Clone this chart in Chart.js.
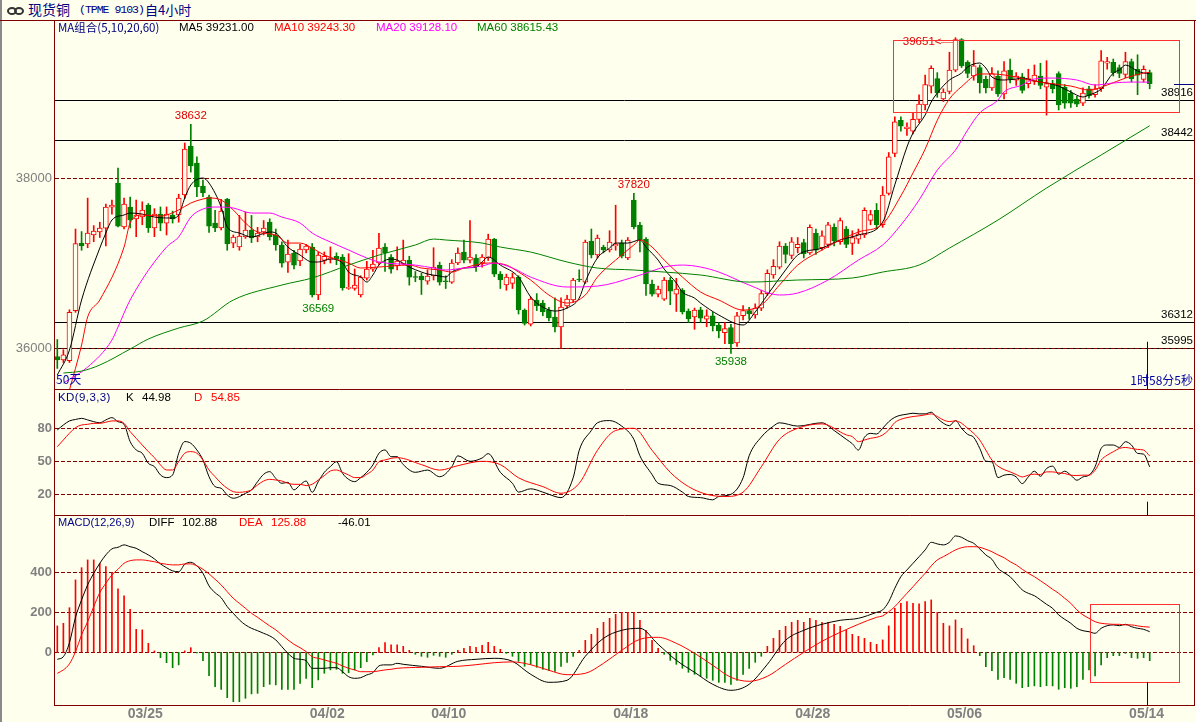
<!DOCTYPE html>
<html lang="zh-CN"><head><meta charset="utf-8">
<title>现货铜</title>
<script src="https://cdn.jsdelivr.net/npm/chart.js@4.4.1/dist/chart.umd.min.js"></script>
<style>
html,body{margin:0;padding:0;background:#FFFFEE;}
body{position:relative;width:1196px;height:722px;overflow:hidden;font-family:"Liberation Sans",Arial,sans-serif;}
#strip{position:absolute;left:0;top:0;width:2px;height:722px;background:#8a8a8a;}
#tline{position:absolute;left:0;top:20px;width:1196px;height:1px;background:#800000;}
canvas{position:absolute;left:0;}
.t{position:absolute;white-space:nowrap;font-size:11px;line-height:13px;}
.cjk{font-family:"Noto Sans CJK SC","Liberation Sans",sans-serif;}
.ring{position:absolute;top:7px;width:6px;height:4px;border:2px solid #333;border-radius:50%;}
</style></head>
<body>
<div id="strip"></div>
<div class="ring" style="left:7px"></div><div class="ring" style="left:14px"></div>
<div class="t cjk" style="left:28px;top:0px;font-size:14px;line-height:19px;color:#000080">现货铜</div>
<div class="t" style="left:79px;top:3px;font-family:'Liberation Mono',monospace;font-size:11.5px;line-height:14px;letter-spacing:-1px;color:#000080">(TPME 9103)</div>
<div class="t cjk" style="left:145px;top:0px;font-size:13px;line-height:19px;color:#000080">自4小时</div>
<div id="tline"></div>
<canvas id="cMain" width="1196" height="369" style="top:20px"></canvas>
<canvas id="cKD" width="1196" height="126" style="top:389px"></canvas>
<canvas id="cMACD" width="1196" height="207" style="top:515px"></canvas>

<div class="t cjk" style="left:58px;top:19px;font-size:11.5px;line-height:16px;color:#000080">MA组合(5,10,20,60)</div>
<div class="t" style="left:179px;top:21px;font-size:11.5px;color:#000">MA5 39231.00</div>
<div class="t" style="left:274px;top:21px;font-size:11.5px;color:#FF0000">MA10 39243.30</div>
<div class="t" style="left:376px;top:21px;font-size:11.5px;color:#FF00FF">MA20 39128.10</div>
<div class="t" style="left:477px;top:21px;font-size:11.5px;color:#008000">MA60 38615.43</div>
<div class="t cjk" style="left:56px;top:372px;font-size:12px;color:#0000A0">50天</div>

<div class="t" style="left:58px;top:391px;font-size:11.5px;color:#000080;letter-spacing:0.4px">KD(9,3,3)</div>
<div class="t" style="left:126px;top:391px;font-size:11.5px;color:#000">K</div>
<div class="t" style="left:142px;top:391px;font-size:11.5px;color:#000">44.98</div>
<div class="t" style="left:194px;top:391px;font-size:11.5px;color:#FF0000">D</div>
<div class="t" style="left:211px;top:391px;font-size:11.5px;color:#FF0000">54.85</div>

<div class="t" style="left:58px;top:516px;font-size:11px;color:#000080">MACD(12,26,9)</div>
<div class="t" style="left:149px;top:516px;font-size:11.5px;color:#000">DIFF</div>
<div class="t" style="left:182px;top:516px;font-size:11.5px;color:#000">102.88</div>
<div class="t" style="left:239px;top:516px;font-size:11.5px;color:#FF0000">DEA</div>
<div class="t" style="left:271px;top:516px;font-size:11.5px;color:#FF0000">125.88</div>
<div class="t" style="left:338px;top:516px;font-size:11.5px;color:#000">-46.01</div>

<script>
// ---------------- data ----------------
const tickIdx    = [14, 44, 64, 94, 124, 149, 179];
const tickLabels = ['03/25','04/02','04/10','04/18','04/28','05/06','05/14'];

const opens = [35900,35860,35850,36440,37235,37224,37330,37365,37411,37658,
37940,37424,37659,37518,37541,37682,37412,37576,37470,37565,
37565,37800,38376,38176,37906,37776,37470,37412,37753,37235,
37188,37306,37388,37306,37365,37482,37330,37212,37011,37118,
37024,37153,37188,36624,37030,37050,37080,37070,36700,36700,
36624,36823,36929,37000,37188,37070,36965,36990,37035,36840,
36847,36788,36847,36976,36790,36776,37000,37130,37035,37059,
37000,37059,37282,36870,36741,36760,36835,36447,36280,36565,
36530,36447,36365,36247,36494,36565,36810,36776,37259,37094,
37188,37153,37200,37235,37060,37741,37447,37282,36753,36635,
36576,36800,36635,36682,36435,36365,36450,36340,36380,36270,
36180,36240,36060,36380,36440,36390,36470,36640,36860,36950,
37200,37090,37180,37240,37120,37350,37180,37220,37420,37250,
37400,37230,37280,37330,37500,37620,37450,37820,38290,38680,
38580,38550,38690,38860,39080,39170,38930,39020,39270,39630,
39360,39200,39300,39160,39060,39200,38990,39270,39150,39190,
39110,39140,39200,39070,39110,39230,39070,39000,38930,38880,
39050,38980,39050,39350,39360,39300,39220,39370,39280,39160,
39240];
const highs = [36100,35980,36450,37400,37370,37764,37440,37480,37694,37741,
38118,37764,37776,37741,37720,37700,37640,37660,37660,37610,
37810,38412,38632,38250,37976,37800,37620,37750,37760,37330,
37560,37600,37560,37420,37500,37520,37400,37250,37270,37150,
37220,37220,37230,37130,37130,37190,37120,37100,37110,36930,
36850,37020,37150,37350,37230,37100,37190,37270,37080,36900,
36880,36920,37180,37010,36850,37040,37180,37270,37500,37100,
37100,37340,37290,36900,36870,36880,36850,36460,36600,36640,
36560,36480,36590,36590,36620,36820,36920,37270,37400,37330,
37210,37380,37680,37270,37300,37820,37480,37300,36800,36730,
36830,36830,36820,36700,36460,36470,36480,36450,36420,36300,
36300,36280,36420,36500,36480,36520,36680,36920,37040,37250,
37230,37300,37300,37280,37450,37400,37380,37480,37460,37530,
37430,37380,37400,37650,37620,37700,37900,38300,38720,38720,
38650,38770,38980,39210,39320,39240,39050,39480,39651,39640,
39380,39500,39330,39200,39300,39260,39370,39400,39240,39230,
39280,39330,39350,39380,39150,39250,39100,39030,38960,39060,
39080,39100,39500,39420,39400,39330,39480,39400,39450,39320,
39270];
const lows = [35760,35830,35830,36420,37150,37180,37250,37300,37200,37576,
37424,37400,37412,37310,37450,37360,37310,37380,37330,37470,
37480,37760,38070,37780,37780,37360,37370,37390,37150,37180,
37150,37290,37240,37250,37330,37270,37150,36950,36890,36930,
36970,37120,36600,36569,36990,37000,36980,36680,36690,36680,
36600,36800,36900,36980,36900,36880,36920,36980,36740,36780,
36630,36750,36800,36740,36700,36760,36980,37000,37000,36900,
36950,37030,36840,36700,36680,36700,36400,36270,36260,36440,
36380,36320,36190,36000,36470,36540,36780,36760,37060,37060,
37120,37130,37150,37060,37040,37400,37130,36620,36610,36600,
36560,36510,36430,36400,36300,36220,36300,36250,36200,36120,
36050,35938,36020,36330,36340,36350,36440,36620,36820,36930,
37000,37050,37120,37060,37100,37100,37150,37180,37200,37220,
37180,37100,37230,37300,37450,37400,37420,37800,38250,38550,
38500,38520,38650,38800,39000,38950,38900,38990,39250,39300,
39180,39150,39000,39000,39030,38960,38930,39120,39090,39000,
39060,39100,39050,38740,39000,38800,38820,38830,38840,38850,
38940,38950,39020,39280,39200,39180,39180,39130,38980,39130,
39050];
const closes = [35860,35920,36420,37230,37200,37353,37376,37411,37658,37682,
37435,37694,37506,37565,37624,37412,37576,37470,37576,37518,
37765,38341,38141,37894,37824,37435,37412,37612,37224,37306,
37318,37388,37294,37353,37412,37306,37212,36999,37106,36976,
37165,37200,36624,37094,37080,37060,37050,36706,36715,36740,
36835,36929,36988,37176,37118,36929,37024,37035,36835,36830,
36800,36847,36953,36776,36780,37000,37118,37035,37070,36953,
37070,37282,36870,36800,36835,36830,36447,36290,36576,36494,
36424,36353,36247,36482,36576,36800,36800,37247,37094,37294,
37153,37247,37220,37082,37270,37424,37271,36753,36635,36694,
36800,36670,36694,36424,36341,36447,36350,36380,36260,36200,
36230,36050,36380,36440,36400,36470,36640,36880,36960,37200,
37100,37250,37220,37110,37420,37150,37320,37450,37260,37500,
37220,37300,37340,37620,37570,37450,37800,38250,38660,38610,
38600,38690,38870,39100,39290,39000,39010,39270,39630,39320,
39230,39320,39120,39060,39230,38990,39260,39170,39200,39030,
39170,39210,39090,39110,39050,38860,38880,38880,38870,39000,
38970,39050,39380,39370,39240,39230,39370,39170,39210,39280,
39110];

// moving averages: [bar index, value]
const ma5Pts = [[0,35682],[2,35976],[4,36565],[7,37176],[8,37353],[9,37506],[11,37565],[12,37588],[14,37576],[16,37541],[19,37529],[20,37565],[21,37765],[22,37918],[24,38000],[25,37941],[27,37659],[28,37424],[30,37353],[32,37306],[35,37365],[36,37353],[38,37188],[40,37094],[42,37012],[43,37012],[45,37047],[47,37000],[48,36894],[50,36835],[51,36776],[52,36859],[53,36976],[55,37047],[56,37035],[58,36953],[60,36894],[61,36871],[63,36847],[64,36835],[65,36894],[67,36941],[69,36953],[70,37012],[71,37071],[73,36976],[76,36835],[78,36600],[80,36482],[82,36435],[84,36471],[86,36588],[87,36780],[89,37059],[91,37176],[92,37235],[94,37235],[96,37271],[97,37188],[99,37035],[100,36929],[102,36765],[103,36659],[105,36588],[106,36529],[109,36388],[113,36271],[115,36424],[117,36624],[120,36918],[122,37094],[126,37176],[129,37271],[132,37329],[136,37482],[138,37920],[140,38365],[141,38529],[143,38741],[144,38894],[145,39000],[147,39153],[149,39235],[150,39306],[152,39353],[153,39294],[154,39188],[156,39153],[158,39165],[159,39176],[161,39141],[163,39118],[165,39082],[167,39012],[169,38953],[170,38976],[172,39047],[174,39235],[175,39271],[176,39329],[178,39259],[179,39235],[180,39231]];
const ma10Pts = [[2,35506],[4,36035],[5,36365],[7,36565],[11,37188],[12,37471],[14,37565],[17,37553],[20,37624],[22,37706],[24,37753],[25,37765],[27,37741],[29,37624],[31,37471],[33,37365],[36,37329],[38,37235],[40,37235],[42,37176],[44,37094],[48,37000],[50,36941],[53,36953],[58,36976],[60,36941],[63,36918],[65,36894],[67,36941],[71,37000],[74,36976],[76,36894],[78,36800],[81,36624],[84,36529],[87,36624],[89,36835],[92,37035],[95,37212],[96,37271],[98,37188],[100,37035],[103,36835],[106,36659],[109,36565],[113,36447],[116,36506],[119,36741],[122,36976],[126,37153],[129,37271],[132,37365],[136,37460],[139,37790],[141,38060],[143,38340],[145,38680],[147,38930],[149,39075],[152,39224],[154,39224],[158,39188],[160,39153],[163,39118],[167,39082],[170,39035],[173,39094],[176,39176],[179,39235],[180,39243]];
const ma20Pts = [[1,35588],[5,35776],[9,36094],[10,36247],[12,36565],[18,37188],[20,37306],[22,37541],[24,37635],[26,37659],[29,37647],[32,37588],[35,37588],[37,37541],[40,37471],[42,37353],[45,37247],[48,37153],[51,37059],[53,37012],[59,36976],[62,36941],[64,36918],[67,36941],[70,36965],[72,37000],[75,36941],[78,36835],[84,36718],[89,36729],[95,36835],[98,36906],[100,36953],[103,36976],[106,36953],[109,36894],[114,36741],[119,36624],[122,36647],[127,36800],[132,37035],[136,37212],[139,37447],[142,37741],[145,38094],[148,38329],[150,38565],[152,38765],[155,38918],[156,39012],[159,39094],[161,39165],[164,39176],[168,39153],[171,39094],[174,39118],[177,39129],[180,39128]];
const ma60Pts = [[1,35706],[4,35729],[7,35800],[12,35988],[15,36106],[20,36235],[24,36318],[29,36565],[37,36741],[42,36824],[48,36976],[53,37094],[59,37212],[62,37282],[64,37271],[70,37235],[73,37188],[78,37129],[84,37012],[89,36941],[95,36918],[100,36894],[106,36859],[114,36776],[122,36800],[131,36824],[136,36894],[142,36976],[147,37176],[155,37506],[163,37882],[172,38271],[180,38615]];

// KD
const kPts = [[0,78.5],[1,83],[2,86.7],[3,88],[4,89],[5,87.6],[6,86],[7,85],[8,87.6],[9,89.7],[10,86],[11,83.6],[12,67.9],[13,60.3],[14,57.3],[15,48.2],[16,45.2],[17,37.6],[18,35.2],[19,37.6],[20,57.3],[21,67.9],[22,66.4],[23,60.3],[24,51.2],[25,36],[26,27],[27,25.5],[28,19.4],[29,16.4],[30,17.9],[31,20.9],[32,24],[33,31.5],[34,38.2],[35,40.6],[36,34.5],[37,30],[38,30.9],[39,24],[40,28.5],[41,32.1],[42,21.8],[43,31.5],[44,40],[45,45.2],[46,49.7],[47,39.1],[48,33.6],[49,31.5],[50,35.2],[51,40],[52,46.7],[53,57.3],[54,60.3],[55,54.2],[56,54.2],[57,47],[59,40],[61,42],[63,36],[65,45],[66,55],[68,50],[70,53],[71,57],[73,40],[75,30],[76,22],[78,25],[80,22],[81,20],[83,17],[85,35],[86,60],[88,78],[89,85],[91,87],[93,82],[95,70],[96,55],[98,38],[99,30],[101,28],[103,22],[104,18],[106,17],[108,15],[109,18],[111,20],[113,35],[114,55],[116,72],[118,82],[119,85],[122,82],[126,85],[128,78],[130,70],[131,66],[132,60.2],[133,71.8],[134,75.4],[135,74.8],[136,80],[137,86],[138,90],[139,91.9],[140,92.8],[141,93.7],[142,93.1],[143,93.1],[144,94.6],[145,89.1],[146,84.6],[147,82.4],[148,87],[149,80],[150,74.5],[151,71.8],[152,61.7],[153,50.1],[154,49.5],[155,35.2],[156,37.4],[157,38],[158,35.8],[159,29.7],[160,35.8],[161,41],[162,36.4],[163,43.4],[164,45.6],[165,38.3],[166,41],[167,37.4],[168,32.8],[169,35.8],[170,37.4],[171,45],[172,61.7],[173,64.8],[174,64.8],[175,62.6],[176,67.8],[177,64.8],[178,57.2],[179,56.5],[180,44.98]];
const dPts = [[0,63.3],[1,69.4],[2,75.5],[3,80.6],[4,83],[5,83.6],[6,84.5],[7,84.5],[8,85.5],[9,86.7],[10,86.7],[11,84.5],[12,77],[13,70.9],[14,64.8],[15,58.8],[16,53.3],[17,46.7],[18,42.1],[19,42.1],[20,49.7],[21,57.3],[22,58.8],[23,57.3],[24,51.2],[25,42.1],[26,36],[27,30],[28,25.5],[29,22.4],[30,21.8],[31,22.4],[32,24],[33,28.5],[34,32.1],[35,33.6],[36,33],[37,32.1],[38,30],[39,29.1],[40,29.1],[41,27.9],[42,29.1],[43,33],[44,37],[45,41.2],[46,42.1],[47,40],[48,37.6],[49,35.2],[50,35.2],[51,38.2],[52,42.1],[53,49.7],[54,51.2],[55,52.7],[56,53.3],[60,47],[63,42],[66,46],[70,50],[73,47],[76,35],[80,27],[83,21],[86,30],[89,60],[92,78],[95,80],[98,60],[101,40],[104,27],[107,20],[110,18],[113,22],[116,45],[119,70],[122,80],[126,84],[130,74],[131,72.4],[132,67.8],[133,69.3],[134,70.9],[135,71.8],[136,73.9],[137,78.5],[138,85.2],[139,88.2],[140,89.7],[141,90.7],[142,91.3],[143,92.2],[144,93.1],[145,90.7],[146,87.6],[147,86.1],[148,86.7],[149,84.6],[150,80],[151,75.4],[152,69.3],[153,60.2],[154,51.1],[155,45.6],[156,42.5],[157,40.4],[158,38],[159,35.8],[160,37.4],[161,38.3],[162,38],[163,40.4],[164,40.4],[165,39.5],[166,38.9],[167,37.4],[168,37.1],[169,37.4],[170,37.4],[171,41.9],[172,51.1],[173,55.6],[174,58.7],[175,61.7],[176,62.6],[177,61.7],[178,60.8],[179,60.2],[180,54.85]];

// MACD
const difPts = [[0,-35],[1,-22],[2,48],[3,175],[4,262],[5,337],[6,395],[7,445],[8,487],[9,517],[10,525],[11,537],[12,528],[13,520],[14,503],[15,487],[16,467],[17,442],[18,423],[19,407],[20,403],[21,440],[22,450],[23,432],[24,395],[25,332],[26,298],[27,273],[28,228],[29,195],[30,162],[31,137],[32,120],[33,108],[34,95],[35,82],[36,62],[37,28],[38,-5],[39,-30],[40,-35],[41,-42],[42,-80],[43,-80],[44,-80],[45,-77],[46,-77],[47,-97],[48,-122],[49,-130],[50,-127],[51,-113],[52,-102],[53,-68],[54,-63],[55,-63],[56,-55],[57,-60],[60,-70],[63,-80],[66,-45],[69,-35],[72,-30],[75,-45],[78,-110],[81,-150],[84,-140],[87,-20],[90,70],[93,110],[96,120],[99,40],[102,-40],[105,-100],[108,-160],[111,-190],[114,-160],[117,-60],[120,60],[123,110],[126,140],[129,160],[132,170],[135,200],[136,212],[137,253],[138,320],[139,378],[140,412],[141,445],[142,478],[143,512],[144,550],[145,542],[146,537],[147,550],[148,582],[149,575],[150,558],[151,545],[152,517],[153,487],[154,465],[155,420],[156,398],[157,378],[158,345],[159,312],[160,295],[161,283],[162,262],[163,240],[164,220],[165,187],[166,165],[167,145],[168,120],[169,108],[170,103],[171,95],[172,120],[173,133],[174,137],[175,133],[176,140],[177,128],[178,120],[179,115],[180,102.88]];
const deaPts = [[0,-105],[1,-88],[2,-58],[3,3],[4,87],[5,153],[6,228],[7,298],[8,345],[9,387],[10,415],[11,445],[12,458],[13,462],[14,462],[15,458],[16,453],[17,445],[18,440],[19,437],[20,437],[21,442],[22,442],[23,432],[24,415],[25,392],[26,365],[27,337],[28,303],[29,270],[30,245],[31,220],[32,195],[33,175],[34,153],[35,132],[36,112],[37,87],[38,62],[39,40],[40,23],[41,3],[42,-22],[43,-30],[44,-38],[45,-47],[46,-55],[47,-68],[48,-80],[49,-88],[50,-97],[51,-97],[52,-97],[53,-93],[54,-88],[55,-85],[56,-80],[60,-75],[63,-72],[66,-70],[69,-62],[72,-52],[75,-48],[78,-62],[81,-90],[84,-112],[87,-105],[90,-55],[93,10],[96,65],[99,75],[102,45],[105,-5],[108,-65],[111,-125],[114,-145],[117,-120],[120,-60],[123,0],[126,55],[129,100],[132,140],[135,175],[136,182],[137,203],[138,228],[139,262],[140,295],[141,328],[142,362],[143,395],[144,432],[145,462],[146,478],[147,495],[148,512],[149,523],[150,528],[151,528],[152,525],[153,515],[154,503],[155,487],[156,473],[157,453],[158,437],[159,415],[160,395],[161,378],[162,358],[163,337],[164,315],[165,295],[166,270],[167,245],[168,212],[169,187],[170,170],[171,153],[172,145],[173,142],[174,140],[175,140],[176,137],[177,137],[178,132],[179,128],[180,125.88]];
const macdHist = [132,145,223,362,423,462,462,445,428,398,
317,282,215,115,112,45,7,-27,-52,-77,
-63,7,23,-3,-42,-117,-172,-185,-227,-247,
-247,-230,-208,-205,-172,-160,-163,-185,-185,-185,
-155,-130,-177,-138,-105,-88,-85,-105,-102,-88,
-77,-47,-13,23,48,37,37,30,10,-10,
-20,-25,-15,-20,-25,-10,10,20,30,25,
35,50,30,15,-5,-20,-45,-70,-60,-75,
-85,-90,-95,-70,-50,-20,10,60,90,120,
150,170,190,200,200,200,160,110,60,20,
-10,-40,-60,-80,-100,-110,-120,-130,-140,-150,
-150,-160,-140,-110,-80,-50,-20,30,70,110,
130,150,160,150,170,160,150,150,140,130,
110,90,80,70,50,40,62,132,220,245,
253,245,242,253,262,200,145,132,162,120,
67,33,-17,-72,-92,-135,-127,-135,-155,-177,
-172,-168,-172,-167,-168,-185,-177,-180,-172,-135,
-88,-118,-63,-27,-17,-17,-5,-27,-30,-27,
-42];

// reference levels and marks
const levelVals  = [38916, 38442, 36312, 35995];
const peakIdx    = [22, 95];
const troughIdx  = [43, 111];
const topMarkIdx = 148;
const boxMain    = [137.7, 184.8, 38776, 39624];
const boxMacd    = [170.1, 184.8, -150, 240];
const cursorIdx  = 179.5;
const timerText  = '1时58分5秒';

// ---------------- drawing ----------------
const C = {bg:'#FFFFEE', red:'#FF0000', green:'#008000', dk:'#800000', navy:'#000080'};
const X_MIN = -0.38, X_MAX = 187.3;
const N = closes.length;
const idx = closes.map((_, i) => i);
const up = closes.map((c, i) => c >= opens[i]);
const pts = a => a.map(p => ({x: p[0], y: p[1]}));
const snap = v => Math.round(v) + 0.5;
function hline(ctx, x0, x1, y){ ctx.beginPath(); ctx.moveTo(x0, y); ctx.lineTo(x1, y); ctx.stroke(); }
function vline(ctx, x, y0, y1){ ctx.beginPath(); ctx.moveTo(x, y0); ctx.lineTo(x, y1); ctx.stroke(); }

function yAxis(min, max, ticks, font){
  return {min, max, position:'left', grid:{display:false, drawTicks:false}, border:{display:false},
    afterBuildTicks: s => { s.ticks = ticks.map(v => ({value:v})); },
    afterFit: s => { s.width = 53; s.paddingTop = 0; s.paddingBottom = 0; },
    ticks:{color:'#808080', font, padding:3, autoSkip:false, callback: v => String(v)}};
}
function xAxis(show){
  const ax = {type:'linear', min:X_MIN, max:X_MAX, offset:false, display:show,
    grid:{display:false, drawTicks:false}, border:{display:false}};
  if (show) Object.assign(ax, {
    afterBuildTicks: s => { s.ticks = tickIdx.map(v => ({value:v})); },
    afterFit: s => { s.height = 17; s.paddingLeft = 0; s.paddingRight = 0; },
    ticks:{autoSkip:false, maxRotation:0, minRotation:0, color:'#808080',
      font:{family:'Liberation Sans', size:14, weight:'bold'}, padding:1, labelOffset:3,
      callback: (v, i) => tickLabels[i]}
  });
  return ax;
}
function opts(scales){
  return {responsive:false, animation:false, events:[],
    layout:{padding:{left:2, right:2, top:0, bottom:0}},
    plugins:{legend:{display:false}, tooltip:{enabled:false}}, scales};
}
const lineDs = (data, color) => ({type:'line', data:pts(data), borderColor:color, borderWidth:1,
  pointRadius:0, cubicInterpolationMode:'monotone', fill:false, order:1});

function gridDash(chart, vals){
  const {ctx, chartArea:a, scales:{y}} = chart;
  ctx.save(); ctx.strokeStyle = C.dk; ctx.lineWidth = 1; ctx.setLineDash([4, 2]);
  vals.forEach(v => hline(ctx, a.left, a.right, snap(y.getPixelForValue(v))));
  ctx.restore();
}
function frame(chart, top, bottom){
  const {ctx, chartArea:a} = chart;
  ctx.save(); ctx.strokeStyle = C.dk; ctx.lineWidth = 1;
  vline(ctx, a.left - 0.5, a.top, a.bottom + 1);
  vline(ctx, a.right + 0.5, a.top, a.bottom + 1);
  if (top) hline(ctx, a.left - 1, a.right + 1, a.top + 0.5);
  if (bottom) hline(ctx, a.left - 1, a.right + 1, a.bottom + 0.5);
  ctx.restore();
}
function cursor(chart, fromVal){
  const {ctx, chartArea:a, scales:{x, y}} = chart;
  ctx.save(); ctx.strokeStyle = C.navy; ctx.lineWidth = 1;
  vline(ctx, snap(x.getPixelForValue(cursorIdx)), y.getPixelForValue(fromVal), a.bottom);
  ctx.restore();
}
function box(chart, b){
  const {ctx, scales:{x, y}} = chart;
  ctx.save(); ctx.strokeStyle = '#FF3030'; ctx.lineWidth = 1;
  const x0 = snap(x.getPixelForValue(b[0])), x1 = snap(x.getPixelForValue(b[1]));
  const y0 = snap(y.getPixelForValue(b[3])), y1 = snap(y.getPixelForValue(b[2]));
  ctx.strokeRect(x0, y0, x1 - x0, y1 - y0);
  ctx.restore();
}

const mainDeco = {
  id:'mainDeco',
  beforeDatasetsDraw(chart){
    const {ctx, chartArea:a, scales:{y}} = chart;
    ctx.save(); ctx.strokeStyle = '#000'; ctx.lineWidth = 1;
    levelVals.forEach(v => hline(ctx, a.left, a.right, snap(y.getPixelForValue(v))));
    ctx.restore();
    gridDash(chart, [36000, 38000]);
  },
  afterDatasetsDraw(chart){
    const {ctx, chartArea:a, scales:{x, y}} = chart;
    ctx.save();
    ctx.font = '11.5px "Liberation Sans"';
    ctx.fillStyle = '#000'; ctx.textAlign = 'right'; ctx.textBaseline = 'bottom';
    levelVals.forEach(v => ctx.fillText(String(v), a.right - 1, Math.round(y.getPixelForValue(v)) - 1));
    ctx.textAlign = 'center';
    ctx.fillStyle = '#E00000'; ctx.textBaseline = 'bottom';
    peakIdx.forEach(i => ctx.fillText(String(highs[i]), x.getPixelForValue(i), y.getPixelForValue(highs[i]) - 3));
    ctx.fillStyle = '#008000'; ctx.textBaseline = 'top';
    troughIdx.forEach(i => ctx.fillText(String(lows[i]), x.getPixelForValue(i), y.getPixelForValue(lows[i]) + 3));
    // top mark with dotted pointer
    const tx = x.getPixelForValue(topMarkIdx), ty = Math.round(y.getPixelForValue(highs[topMarkIdx])) + 4;
    ctx.fillStyle = '#E00000'; ctx.textAlign = 'right'; ctx.textBaseline = 'middle';
    ctx.fillText(String(highs[topMarkIdx]) + '<', tx - 14, ty);
    ctx.strokeStyle = '#E00000'; ctx.setLineDash([1, 1]);
    hline(ctx, tx - 14, tx - 3, ty + 0.5);
    ctx.setLineDash([]);
    ctx.restore();
    box(chart, boxMain);
    cursor(chart, 36074);
    // last price marker
    ctx.save(); ctx.strokeStyle = C.navy; ctx.lineWidth = 1;
    hline(ctx, x.getPixelForValue(184), a.right, snap(y.getPixelForValue(closes[N - 1])));
    ctx.fillStyle = '#0000A0'; ctx.font = '12px "Noto Sans CJK SC"';
    ctx.textAlign = 'right'; ctx.textBaseline = 'middle';
    ctx.fillText(timerText, a.right - 1, a.bottom - 9);
    ctx.restore();
    frame(chart, false, false);
  }
};
const kdDeco = {
  id:'kdDeco',
  beforeDatasetsDraw(chart){ gridDash(chart, [20, 50, 80]); },
  afterDatasetsDraw(chart){ cursor(chart, 13.3); frame(chart, true, false); }
};
const macdDeco = {
  id:'macdDeco',
  beforeDatasetsDraw(chart){ gridDash(chart, [0, 200, 400]); },
  afterDatasetsDraw(chart){ box(chart, boxMacd); cursor(chart, -148); frame(chart, true, true); }
};

new Chart(document.getElementById('cMain'), {
  type:'bar',
  data:{datasets:[
    {type:'bar', data: idx.map(i => ({x:i, y:[lows[i], highs[i]]})),
      backgroundColor: up.map(u => u ? C.red : C.green), barThickness:1, grouped:false, order:5},
    {type:'bar', data: idx.map(i => ({x:i, y:[opens[i], closes[i]]})),
      backgroundColor: up.map(u => u ? C.bg : C.green), borderColor: up.map(u => u ? C.red : C.green),
      borderWidth:1, borderSkipped:false, barThickness:5, minBarLength:1, grouped:false, order:4},
    lineDs(ma60Pts, '#008000'),
    lineDs(ma20Pts, '#FF00FF'),
    lineDs(ma10Pts, '#FF0000'),
    lineDs(ma5Pts, '#000000')
  ]},
  options: opts({x: xAxis(false), y: yAxis(35518, 39859, [36000, 38000], {family:'Liberation Sans', size:13})}),
  plugins:[mainDeco]
});

new Chart(document.getElementById('cKD'), {
  type:'line',
  data:{datasets:[ lineDs(dPts, '#FF0000'), lineDs(kPts, '#000000') ]},
  options: opts({x: xAxis(false), y: yAxis(1.2, 115.7, [20, 50, 80], {family:'Liberation Sans', size:13, weight:'bold'})}),
  plugins:[kdDeco]
});

new Chart(document.getElementById('cMACD'), {
  type:'bar',
  data:{datasets:[
    {type:'bar', data: idx.map(i => ({x:i, y:macdHist[i]})),
      backgroundColor: macdHist.map(v => v >= 0 ? C.red : C.green), barThickness:1, grouped:false, order:3},
    lineDs(deaPts, '#FF0000'),
    lineDs(difPts, '#000000')
  ]},
  options: opts({x: xAxis(true), y: yAxis(-263.5, 686.5, [0, 200, 400], {family:'Liberation Sans', size:13, weight:'bold'})}),
  plugins:[macdDeco]
});
</script>
</body></html>
